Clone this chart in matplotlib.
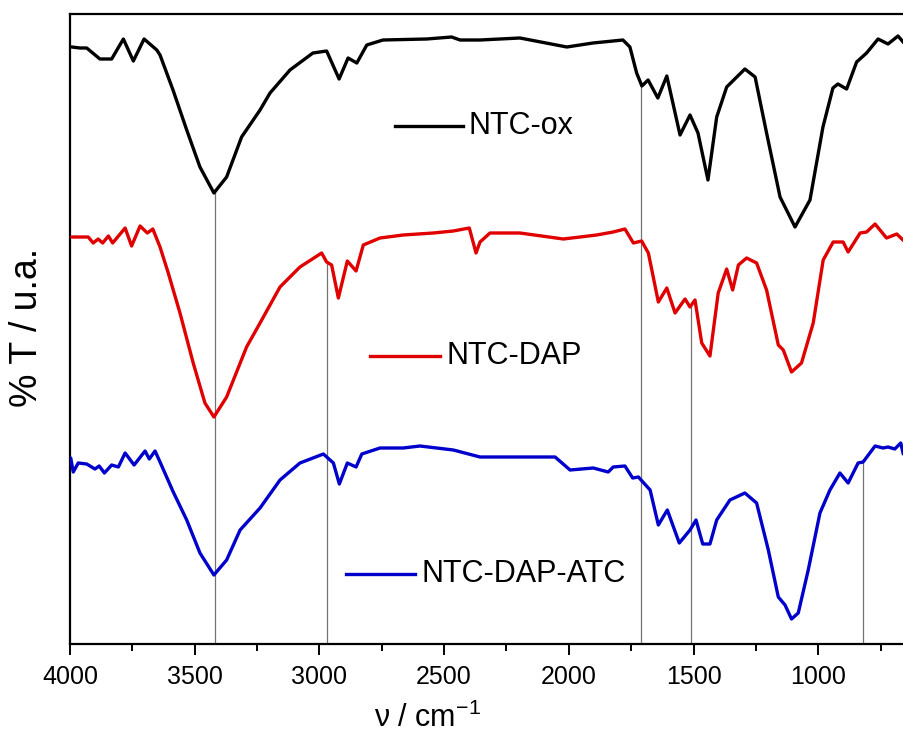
import numpy as np
import matplotlib
matplotlib.use("Agg")
import matplotlib.pyplot as plt
from matplotlib import font_manager

# wavenumbers (cm-1) and transmittance (a.u., offset)
wn_ox = [3993, 3960, 3933, 3880, 3833, 3786, 3746, 3703, 3652, 3639, 3587, 3532, 3479, 3423,
         3372, 3312, 3238, 3198, 3118, 3026, 2971, 2921, 2885, 2850, 2810, 2745, 2570, 2470,
         2436, 2356, 2196, 2008, 1903, 1783, 1755, 1728, 1707, 1682, 1643, 1607, 1554, 1514,
         1482, 1442, 1407, 1367, 1294, 1253, 1207, 1153, 1093, 1033, 981, 941, 921, 886, 846,
         806, 760, 720, 680, 656]
t_ox = [597, 596, 596, 585, 585, 605, 583, 605, 594, 589, 554, 514, 477, 451,
        467, 507, 534, 551, 574, 591, 593, 565, 586, 581, 599, 604, 605, 607,
        604, 604, 606, 597, 601, 604, 597, 571, 558, 564, 546, 568, 509, 529,
        511, 464, 527, 557, 575, 567, 511, 447, 417, 444, 517, 556, 560, 555, 582,
        591, 605, 600, 608, 601]

wn_dap = [3993, 3927, 3907, 3887, 3869, 3846, 3829, 3779, 3753, 3719, 3690, 3668, 3639, 3606,
          3559, 3506, 3459, 3423, 3372, 3292, 3238, 3158, 3078, 2991, 2971, 2951, 2924, 2888,
          2853, 2824, 2757, 2664, 2543, 2463, 2399, 2372, 2356, 2316, 2196, 2022, 1888, 1822,
          1775, 1741, 1708, 1681, 1641, 1607, 1574, 1534, 1514, 1494, 1467, 1434, 1401, 1367,
          1343, 1320, 1287, 1247, 1207, 1160, 1140, 1107, 1067, 1020, 980, 940, 900, 880, 832,
          806, 772, 726, 685, 656]
t_dap = [407, 407, 401, 405, 401, 408, 401, 416, 398, 418, 411, 415, 397, 371,
         331, 281, 241, 227, 247, 297, 321, 357, 377, 391, 382, 379, 346, 383,
         373, 399, 406, 409, 411, 413, 416, 391, 402, 411, 411, 405, 409, 412,
         415, 401, 403, 391, 342, 356, 331, 345, 337, 344, 301, 288, 351, 375,
         354, 379, 386, 381, 354, 299, 294, 272, 281, 321, 384, 402, 402, 392, 411,
         412, 420, 406, 410, 403]

wn_atc = [3997, 3987, 3967, 3933, 3900, 3883, 3862, 3833, 3806, 3779, 3743, 3699, 3682, 3659,
          3639, 3586, 3532, 3479, 3423, 3372, 3318, 3238, 3158, 3078, 2984, 2944, 2920, 2888,
          2853, 2830, 2757, 2664, 2597, 2463, 2356, 2089, 2055, 1995, 1902, 1842, 1822, 1775,
          1744, 1721, 1674, 1641, 1605, 1557, 1514, 1490, 1463, 1434, 1407, 1354, 1294, 1247,
          1200, 1160, 1133, 1107, 1080, 1040, 993, 953, 913, 880, 840, 820, 772, 740, 720, 693,
          669, 659]
t_atc = [186, 172, 181, 180, 175, 178, 171, 179, 177, 191, 179, 193, 185, 193,
         182, 152, 124, 91, 69, 84, 114, 136, 164, 181, 190, 181, 160, 181,
         177, 190, 196, 196, 198, 194, 187, 187, 187, 174, 176, 172, 177, 178,
         166, 167, 154, 119, 134, 101, 114, 124, 100, 100, 124, 144, 151, 141,
         94, 47, 39, 25, 31, 74, 131, 154, 171, 161, 181, 182, 198, 196, 197, 195,
         201, 190]

labels = ["NTC-ox", "NTC-DAP", "NTC-DAP-ATC"]
colors = ["black", "#e00000", "#0000cc"]

# marked bands: (wavenumber, index of the spectrum the guide line reaches)
bands = [3420, 2970, 1710, 1510, 820]
band_curve = [0, 1, 0, 1, 2]

names = {f.name for f in font_manager.fontManager.ttflist}
narrow = "Liberation Sans Narrow" if "Liberation Sans Narrow" in names else "Liberation Sans"

plt.rcParams["font.family"] = ["Liberation Sans", "DejaVu Sans"]
plt.rcParams["mathtext.fontset"] = "custom"
plt.rcParams["mathtext.rm"] = "Liberation Sans"

fig = plt.figure(figsize=(9.04, 7.45), dpi=100)
ax = fig.add_axes([70 / 904, 1 - 644 / 745, 834 / 904, 630 / 745])

spectra = [(wn_ox, t_ox), (wn_dap, t_dap), (wn_atc, t_atc)]

for b, ci in zip(bands, band_curve):
    w, t = spectra[ci]
    top = np.interp(b, w[::-1], t[::-1])
    ax.vlines(b, 0, top, color="0.45", lw=0.9, zorder=1)

for (w, t), c in zip(spectra, colors):
    ax.plot(w, t, color=c, lw=2.4, zorder=3, solid_joinstyle="round",
            solid_capstyle="round")

# in-plot legend entries
leg_pos = [(0.390, 0.471, 0.822), (0.360, 0.444, 0.457), (0.331, 0.414, 0.111)]
for (x0, x1, y), c, lab in zip(leg_pos, colors, labels):
    ax.plot([x0, x1], [y, y], color=c, lw=2.4, transform=ax.transAxes)
    ax.text(x1 + 0.007, y, lab, transform=ax.transAxes, fontsize=22,
            va="center", ha="left", color="black")

ax.set_xlim(4000, 656)
ax.set_ylim(0, 630)
ax.set_xticks([4000, 3500, 3000, 2500, 2000, 1500, 1000])
ax.set_xticks(np.arange(3750, 656, -500), minor=True)
ax.set_yticks([])
for s in ["left", "top", "bottom"]:
    ax.spines[s].set_linewidth(1.6)
ax.spines["right"].set_visible(False)
ax.tick_params(axis="x", which="major", direction="out", length=8, width=1.4,
               labelsize=18, pad=7)
ax.tick_params(axis="x", which="minor", direction="out", length=5, width=1.4)
for lab in ax.get_xticklabels():
    lab.set_family([narrow, "DejaVu Sans"])

fig.text(27 / 904, 1 - 327 / 745, "% T / u.a.", rotation=90, ha="center",
         va="center", fontsize=27)
fig.text(428 / 904, 1 - 718 / 745, "ν / cm$^{-1}$", ha="center", va="center",
         fontsize=22, family=[narrow, "DejaVu Sans"])

fig.savefig("out.png", dpi=100)
